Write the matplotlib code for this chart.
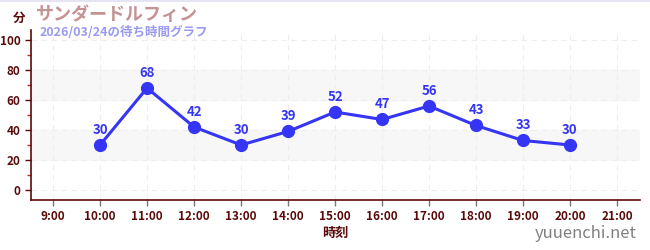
import matplotlib
matplotlib.use("Agg")
import matplotlib.pyplot as plt
from matplotlib.ticker import MultipleLocator

plt.rcParams['font.family'] = ['Noto Sans CJK JP', 'DejaVu Sans']

# data
hours = [10, 11, 12, 13, 14, 15, 16, 17, 18, 19, 20]
waits = [30, 68, 42, 30, 39, 52, 47, 56, 43, 33, 30]
tick_hours = list(range(9, 22))
tick_labels = [f"{h}:00" for h in tick_hours]
title = "サンダードルフィン"
subtitle = "2026/03/24の待ち時間グラフ"

axis_col = '#5a0a0a'
line_col = '#3535f5'

fig = plt.figure(figsize=(6.5, 2.5), dpi=100)
ax = fig.add_axes([31 / 650, 1 - 200 / 250, (640 - 31) / 650, (200 - 30) / 250])

ax.set_xlim(8.53, 21.49)
ax.set_ylim(-6.7, 106.7)

# shaded bands
for lo, hi in [(20, 40), (60, 80)]:
    ax.axhspan(lo, hi, color='#f7f7f7', zorder=0)

ax.set_xticks(tick_hours)
ax.set_xticklabels(tick_labels)
ax.set_yticks(range(0, 101, 20))
ax.yaxis.set_minor_locator(MultipleLocator(10))
ax.grid(True, which='major', color='#eeeeee', linestyle=(0, (5, 4)), linewidth=0.8)

for s in ['top', 'right']:
    ax.spines[s].set_visible(False)
for s in ['left', 'bottom']:
    ax.spines[s].set_color(axis_col)
    ax.spines[s].set_linewidth(1.2)

ax.tick_params(axis='both', which='major', colors=axis_col, labelsize=8.5, length=4, width=1)
ax.tick_params(axis='y', which='minor', colors='#cc2222', length=3, width=1)
ax.tick_params(axis='x', which='major', colors='#777777', labelcolor=axis_col)
for lab in ax.get_xticklabels() + ax.get_yticklabels():
    lab.set_fontweight('bold')

ax.plot(hours, waits, color=line_col, linewidth=2.2, marker='o', markersize=8.5, zorder=3)
for h, w in zip(hours, waits):
    ax.annotate(str(w), (h, w), textcoords='offset points', xytext=(0, 6),
                ha='center', va='bottom', color=line_col, fontsize=9.5, fontweight='bold')

ax.set_xlabel("時刻", color=axis_col, fontsize=9.5, fontweight='bold', labelpad=2)

fig.text(13 / 650, 1 - 18 / 250, "分", color=axis_col, fontsize=9, fontweight='bold', va='center')
fig.text(36 / 650, 1 - 14 / 250, title, color='#c49494', fontsize=13, fontweight='bold', va='center')
fig.text(40 / 650, 1 - 32 / 250, subtitle, color='#9a9af0', fontsize=9, fontweight='bold', va='center')
fig.text(637 / 650, 1 - 233 / 250, "yuuenchi.net", color='#808080', fontsize=12, ha='right', va='center')

fig.add_artist(plt.Line2D([0, 1], [0.998, 0.998], color='#e4e4f4', linewidth=1.5, transform=fig.transFigure))

fig.savefig("out.png", dpi=100)
